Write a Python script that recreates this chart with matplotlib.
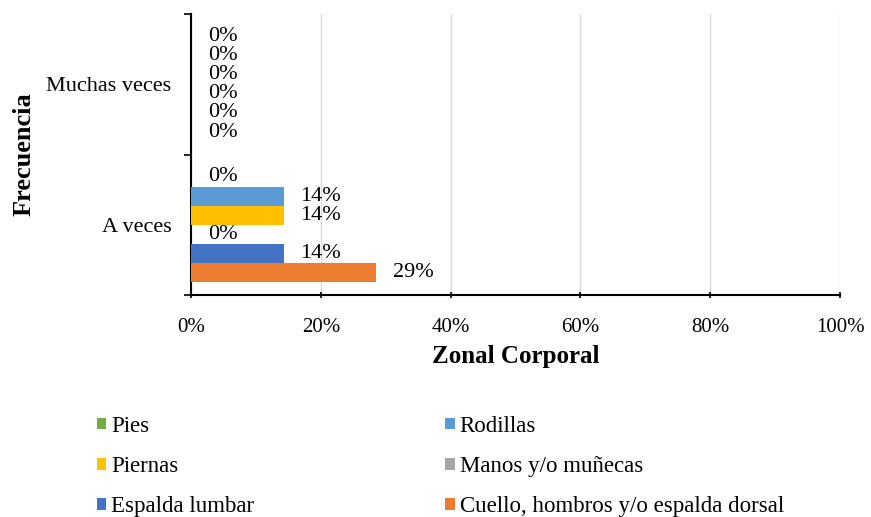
import matplotlib.pyplot as plt
from matplotlib.patches import Patch

plt.rcParams['font.family'] = ['Liberation Serif', 'DejaVu Serif']

# data
categories = ['A veces', 'Muchas veces']
series = ['Cuello, hombros y/o espalda dorsal', 'Espalda lumbar', 'Manos y/o muñecas',
          'Piernas', 'Rodillas', 'Pies']
values = {
    'Cuello, hombros y/o espalda dorsal': [0.2857, 0.0],
    'Espalda lumbar': [0.1429, 0.0],
    'Manos y/o muñecas': [0.0, 0.0],
    'Piernas': [0.1429, 0.0],
    'Rodillas': [0.1429, 0.0],
    'Pies': [0.0, 0.0],
}
colors = {
    'Cuello, hombros y/o espalda dorsal': '#ED7D31',
    'Espalda lumbar': '#4472C4',
    'Manos y/o muñecas': '#A5A5A5',
    'Piernas': '#FFC000',
    'Rodillas': '#5B9BD5',
    'Pies': '#70AD47',
}
x_ticks = [0, 0.2, 0.4, 0.6, 0.8, 1.0]

fig = plt.figure(figsize=(8.71, 5.17), dpi=100)
ax = fig.add_axes([191 / 871, 1 - 295 / 517, 649 / 871, 281 / 517])

bar_h = 0.136
n = len(series)
for i, name in enumerate(series):
    offs = (i - (n - 1) / 2) * bar_h
    ys = [k + offs for k in range(len(categories))]
    ax.barh(ys, values[name], height=bar_h, color=colors[name], zorder=3)
    for y, v in zip(ys, values[name]):
        ax.annotate('{:.0f}%'.format(v * 100), xy=(v, y), xytext=(12, 0),
                    textcoords='offset points', va='center', ha='left', fontsize=16)

ax.set_xlim(0, 1)
ax.set_ylim(-0.5, len(categories) - 0.5)
ax.set_xticks(x_ticks)
ax.set_xticklabels(['{:.0f}%'.format(t * 100) for t in x_ticks], fontsize=15)
ax.set_yticks([-0.5, 0.5, 1.5])
ax.set_yticklabels([])
ax.set_yticks(range(len(categories)), minor=True)
ax.set_yticklabels(categories, minor=True, fontsize=16)
ax.tick_params(axis='y', which='minor', length=0, pad=14)
ax.tick_params(axis='y', which='major', length=5, width=1.2, direction='out')
ax.tick_params(axis='x', length=5, width=1.2, direction='inout', pad=14)
ax.grid(axis='x', color='#D9D9D9', linewidth=1, zorder=0)
for s in ['top', 'right']:
    ax.spines[s].set_visible(False)
ax.spines['left'].set_linewidth(1.5)
ax.spines['bottom'].set_linewidth(1.5)

ax.set_xlabel('Zonal Corporal', fontsize=18, fontweight='bold', labelpad=6)
ax.set_ylabel('Frecuencia', fontsize=19, fontweight='bold')
ax.yaxis.set_label_coords(-0.24, 0.5)

# legend filled row by row: Pies, Rodillas / Piernas, Manos / Espalda, Cuello
order = ['Pies', 'Piernas', 'Espalda lumbar', 'Rodillas', 'Manos y/o muñecas',
         'Cuello, hombros y/o espalda dorsal']
handles = [Patch(facecolor=colors[k], label=k) for k in order]
fig.legend(handles=handles, ncol=2, loc='upper left', bbox_to_anchor=(76 / 871, 1 - 395 / 517),
           frameon=False, fontsize=16.5, handlelength=0.42, handleheight=0.42,
           handletextpad=0.2, columnspacing=8.35, labelspacing=0.84)

fig.savefig('out.png', dpi=100)
